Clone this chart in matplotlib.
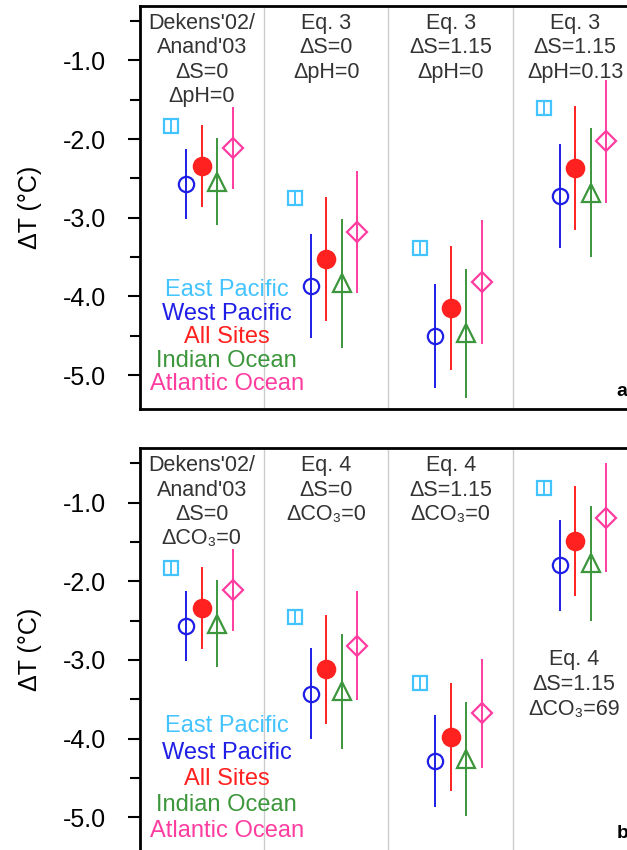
import matplotlib.pyplot as plt

plt.rcParams["font.family"] = ["Liberation Sans", "DejaVu Sans"]

groups = [0, 1, 2, 3]
names = ["East Pacific", "West Pacific", "All Sites", "Indian Ocean", "Atlantic Ocean"]

# panel a
a_east = [-1.83, -2.75, -3.38, -1.60]
a_east_err = [0.1, 0.1, 0.1, 0.1]
a_west = [-2.57, -3.87, -4.50, -2.72]
a_west_err = [0.44, 0.66, 0.66, 0.66]
a_all = [-2.34, -3.52, -4.15, -2.37]
a_all_err = [0.52, 0.79, 0.79, 0.79]
a_indian = [-2.54, -3.83, -4.47, -2.68]
a_indian_err = [0.55, 0.82, 0.82, 0.82]
a_atlantic = [-2.11, -3.18, -3.82, -2.03]
a_atlantic_err = [0.52, 0.78, 0.79, 0.78]

# panel b
b_east = [-1.83, -2.45, -3.30, -0.81]
b_east_err = [0.1, 0.1, 0.1, 0.1]
b_west = [-2.57, -3.43, -4.29, -1.80]
b_west_err = [0.44, 0.58, 0.585, 0.58]
b_all = [-2.34, -3.12, -3.98, -1.49]
b_all_err = [0.52, 0.69, 0.69, 0.695]
b_indian = [-2.54, -3.40, -4.26, -1.77]
b_indian_err = [0.55, 0.73, 0.73, 0.73]
b_atlantic = [-2.11, -2.82, -3.68, -1.19]
b_atlantic_err = [0.52, 0.69, 0.695, 0.695]

a_labels = ["Dekens'02/\nAnand'03\nΔS=0\nΔpH=0", "Eq. 3\nΔS=0\nΔpH=0",
            "Eq. 3\nΔS=1.15\nΔpH=0", "Eq. 3\nΔS=1.15\nΔpH=0.13"]
b_labels = ["Dekens'02/\nAnand'03\nΔS=0\nΔCO₃=0", "Eq. 4\nΔS=0\nΔCO₃=0",
            "Eq. 4\nΔS=1.15\nΔCO₃=0", ""]
b_extra = "Eq. 4\nΔS=1.15\nΔCO₃=69"

yticks = [-1.0, -2.0, -3.0, -4.0, -5.0]
ytick_labels = ["-1.0", "-2.0", "-3.0", "-4.0", "-5.0"]

colors = ["#44c4ff", "#1e1ee6", "#ff2020", "#3c963c", "#ff3ca0"]
markers = ["s", "o", "o", "^", "D"]
sizes = [10, 11, 12.5, 13.5, 10.5]
filled = [False, False, True, False, False]
offsets = [-0.25, -0.125, 0, 0.125, 0.25]


def draw(ax, series, labels, legend_y, panel):
    for i, (vals, errs) in enumerate(series):
        x = [g + offsets[i] for g in groups]
        ax.errorbar(x, vals, yerr=errs, fmt=markers[i], color=colors[i],
                    mfc=colors[i] if filled[i] else "none", mec=colors[i],
                    ms=sizes[i], mew=1.6, elinewidth=1.4, capsize=0, zorder=3)
    for g in [0.5, 1.5, 2.5]:
        ax.axvline(g, color="#cccccc", lw=1, zorder=1)
    for g, lab in zip(groups, labels):
        ax.text(g, -0.40, lab, ha="center", va="top", fontsize=15.5,
                color="#333333", linespacing=1.2)
    for name, c, y in zip(names, colors, legend_y):
        ax.text(0.2, y, name, ha="center", va="center", fontsize=17, color=c)
    ax.text(3.335, -5.21, panel, ha="left", va="center", fontsize=14,
            fontweight="bold")
    ax.set_xlim(-0.5, 3.5)
    ax.set_ylim(-5.43, -0.31)
    ax.set_xticks([])
    ax.set_yticks(yticks)
    ax.set_yticklabels(ytick_labels, fontsize=18)
    ax.set_yticks([-0.5, -1.5, -2.5, -3.5, -4.5], minor=True)
    ax.tick_params(axis="y", which="major", direction="out", length=9,
                   width=1.5, pad=15)
    ax.tick_params(axis="y", which="minor", direction="out", length=7,
                   width=1.5)
    for s in ax.spines.values():
        s.set_linewidth(2)
    ax.set_ylabel("ΔT (°C)", fontsize=18)
    ax.yaxis.set_label_coords(-0.195, 0.5)


fig = plt.figure(figsize=(6.27, 8.5), dpi=100)
ax1 = fig.add_axes([0.2225, 0.5188, 0.794, 0.4741])
ax2 = fig.add_axes([0.2225, -0.0012, 0.794, 0.4738])

draw(ax1, [(a_east, a_east_err), (a_west, a_west_err), (a_all, a_all_err),
           (a_indian, a_indian_err), (a_atlantic, a_atlantic_err)],
     a_labels, [-3.92, -4.22, -4.51, -4.82, -5.11], "a")
draw(ax2, [(b_east, b_east_err), (b_west, b_west_err), (b_all, b_all_err),
           (b_indian, b_indian_err), (b_atlantic, b_atlantic_err)],
     b_labels, [-3.84, -4.18, -4.51, -4.84, -5.17], "b")
ax2.text(2.99, -3.31, b_extra, ha="center", va="center", fontsize=15.5,
         color="#333333", linespacing=1.25)

fig.savefig("out.png", dpi=100)
